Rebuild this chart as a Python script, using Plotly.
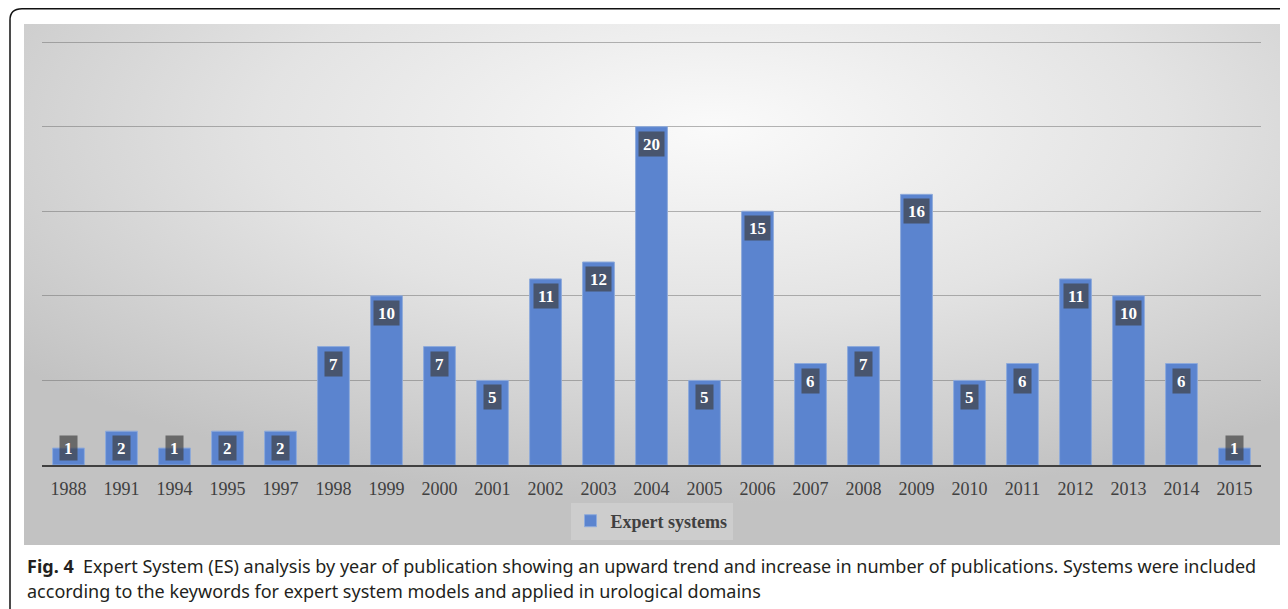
import base64
import plotly.graph_objects as go

years = ["1988", "1991", "1994", "1995", "1997", "1998", "1999", "2000", "2001", "2002",
         "2003", "2004", "2005", "2006", "2007", "2008", "2009", "2010", "2011", "2012",
         "2013", "2014", "2015"]
counts = [1, 2, 1, 2, 2, 7, 10, 7, 5, 11, 12, 20, 5, 15, 6, 7, 16, 5, 6, 11, 10, 6, 1]
series_name = "Expert systems"
caption_line1 = ("<b>Fig. 4</b>  Expert System (ES) analysis by year of publication showing an upward "
                 "trend and increase in number of publications. Systems were included")
caption_line2 = "according to the keywords for expert system models and applied in urological domains"

OFF = 8  # page body margin
W, H = 1280, 601
L, R, T, B = 34, 27, 29, 144
PW = W - L - R
PH = H - T - B
Y_MAX = 25.3


def xp(px):  # page pixel -> paper
    return (px - OFF - L) / PW


def yp(py):
    return (H - B - (py - OFF)) / PH


svg = """<svg xmlns='http://www.w3.org/2000/svg' width='1257' height='521' preserveAspectRatio='none'>
<defs><radialGradient id='g' cx='0.55' cy='0.2' r='0.72'>
<stop offset='0' stop-color='#fafafa'/>
<stop offset='0.5' stop-color='#e3e3e3'/>
<stop offset='1' stop-color='#c2c2c2'/>
</radialGradient></defs>
<rect x='0' y='0' width='1257' height='521' fill='url(#g)'/>
</svg>"""
svg_uri = "data:image/svg+xml;base64," + base64.b64encode(svg.encode()).decode()

fig = go.Figure()
fig.add_trace(go.Bar(
    x=years, y=counts, name=series_name,
    marker=dict(color="#5B84CF", line=dict(color="#8EAADB", width=1)),
    showlegend=True,
))

annotations = []
px_per_unit = PH / Y_MAX
label_font = dict(family="Liberation Serif", size=17, color="white")
for i, v in enumerate(counts):
    if v * px_per_unit < 33:
        annotations.append(dict(x=i, y=0, xref="x", yref="y", yanchor="bottom", yshift=4,
                                text=f"<b>{v}</b>", showarrow=False, font=label_font,
                                bgcolor="rgba(64,64,64,0.68)", borderpad=4, height=16))
    else:
        annotations.append(dict(x=i, y=v, xref="x", yref="y", yanchor="top", yshift=-4,
                                text=f"<b>{v}</b>", showarrow=False, font=label_font,
                                bgcolor="rgba(64,64,64,0.68)", borderpad=4, height=16))

cap_font = dict(family="Noto Sans", size=18, color="#231f20")
annotations.append(dict(x=xp(25), y=yp(566), xref="paper", yref="paper", xanchor="left",
                        yanchor="middle", text=caption_line1, showarrow=False, align="left",
                        font=cap_font))
annotations.append(dict(x=xp(25), y=yp(591), xref="paper", yref="paper", xanchor="left",
                        yanchor="middle", text=caption_line2, showarrow=False, align="left",
                        font=cap_font))

shapes = [dict(type="path", xref="paper", yref="paper",
               path=(f"M {xp(10)},{yp(615)} L {xp(10)},{yp(20)} "
                     f"Q {xp(10)},{yp(8.8)} {xp(22)},{yp(8.8)} L {xp(1300)},{yp(8.8)}"),
               line=dict(color="#111111", width=1.5))]

fig.update_layout(
    width=W, height=H,
    margin=dict(l=L, r=R, t=T, b=B),
    paper_bgcolor="white",
    plot_bgcolor="rgba(0,0,0,0)",
    bargap=0.4,
    images=[dict(source=svg_uri, xref="paper", yref="paper", x=xp(24), y=yp(24),
                 sizex=(1281 - 24) / PW, sizey=(545 - 24) / PH, xanchor="left", yanchor="top",
                 sizing="stretch", layer="below")],
    xaxis=dict(type="category", showline=True, linecolor="#404040", linewidth=2,
               ticks="outside", ticklen=6, tickcolor="rgba(0,0,0,0)",
               tickfont=dict(family="Liberation Serif", size=18, color="#404040"),
               showgrid=False, fixedrange=True),
    yaxis=dict(range=[0, Y_MAX], tickmode="linear", tick0=0, dtick=5, showticklabels=False,
               showgrid=True, gridcolor="rgba(110,110,110,0.5)", gridwidth=1, zeroline=False,
               showline=False, fixedrange=True),
    legend=dict(orientation="h", x=0.5, xanchor="center", y=yp(521), yanchor="middle",
                font=dict(family="Liberation Serif", size=18, color="#404040", weight="bold"),
                bgcolor="rgba(255,255,255,0.18)", itemclick=False, itemwidth=30),
    annotations=annotations,
    shapes=shapes,
)

fig.write_html("out.html")
